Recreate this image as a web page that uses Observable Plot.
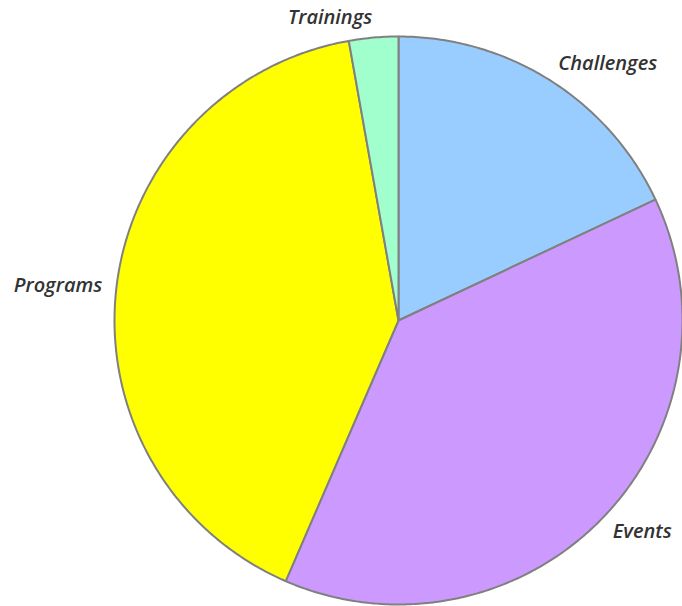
<!DOCTYPE html>
<html>
<head>
<meta charset="utf-8">
<script src="https://cdn.jsdelivr.net/npm/d3@7"></script>
<script src="https://cdn.jsdelivr.net/npm/@observablehq/plot@0.6"></script>
<style>
  html, body { margin: 0; padding: 0; background: #fff; }
  #chart svg { display: block; }
</style>
</head>
<body>
<div id="chart"></div>
<script>
// Data (clockwise from 12 o'clock)
const categories = ["Challenges", "Events", "Programs", "Trainings"];
const shares = [18.0, 38.5, 40.7, 2.8];
const sliceColors = ["#99ccff", "#cc99ff", "#ffff00", "#a0ffcc"];

const pieGen = d3.pie().sort(null).value((d, i) => shares[i]);
const arcs = pieGen(categories);

// Outline points for each slice (center + arc samples + center), unit radius
function slicePoints(a, idx) {
  const pts = [{x: 0, y: 0, k: idx}];
  const n = Math.max(2, Math.ceil((a.endAngle - a.startAngle) / 0.01));
  for (let j = 0; j <= n; j++) {
    const t = a.startAngle + (a.endAngle - a.startAngle) * j / n;
    pts.push({x: Math.sin(t), y: Math.cos(t), k: idx});
  }
  pts.push({x: 0, y: 0, k: idx});
  return pts;
}

const labelRx = 1.05, labelRy = 1.07;
const labels = arcs.map((a, i) => {
  const m = (a.startAngle + a.endAngle) / 2;
  return {name: categories[i], x: labelRx * Math.sin(m), y: labelRy * Math.cos(m), right: Math.sin(m) >= 0};
});

const sliceMarks = arcs.map((a, i) => Plot.line(slicePoints(a, i), {
  x: "x", y: "y", fill: sliceColors[i], stroke: "#808080", strokeWidth: 2, strokeLinejoin: "round", curve: "linear"
}));

const textStyle = {
  x: "x", y: "y", text: "name", fontSize: 20, fontStyle: "italic", fontWeight: 600,
  fontFamily: "'Open Sans', sans-serif", fill: "#333333", lineAnchor: "middle"
};

const chart = Plot.plot({
  width: 682,
  height: 606,
  marginLeft: 114,
  marginRight: 0,
  marginTop: 36,
  marginBottom: 2,
  x: {domain: [-1, 1], axis: null},
  y: {domain: [-1, 1], axis: null},
  style: {background: "#fff", overflow: "visible"},
  marks: [
    ...sliceMarks,
    Plot.text(labels.filter(d => d.right), {...textStyle, textAnchor: "start"}),
    Plot.text(labels.filter(d => !d.right), {...textStyle, textAnchor: "end"})
  ]
});
document.getElementById("chart").appendChild(chart);
</script>
</body>
</html>
